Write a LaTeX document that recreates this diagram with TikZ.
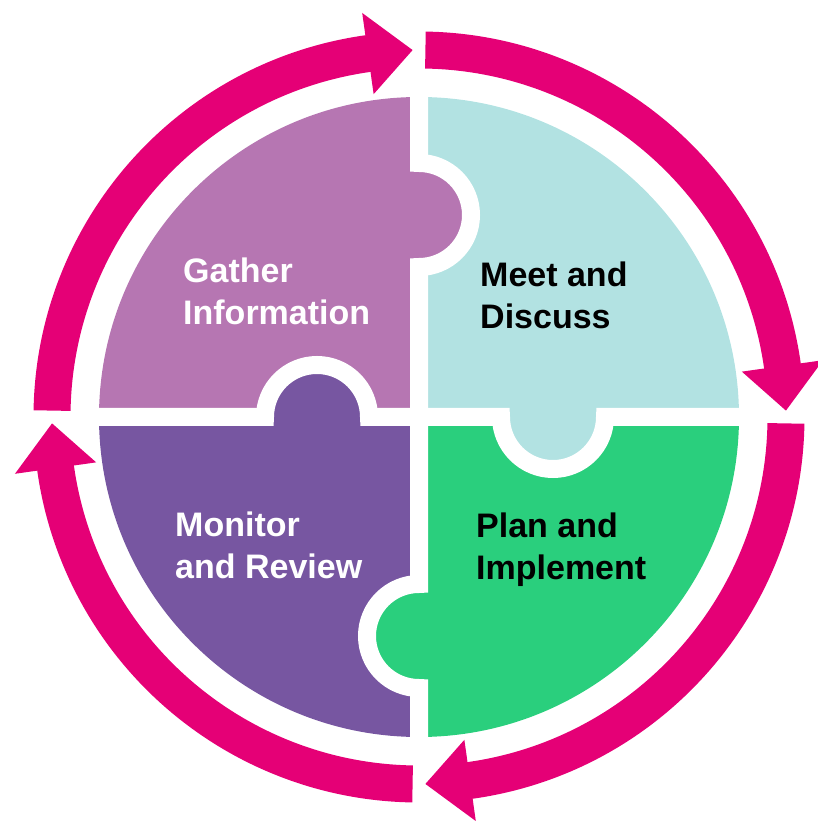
\documentclass[tikz,border=0pt]{standalone}
\usepackage{fontspec}
\setmainfont{Liberation Sans}
\definecolor{mymagenta}{RGB}{229,0,118}
\definecolor{mypink}{RGB}{182,118,178}
\definecolor{mycyan}{RGB}{178,226,226}
\definecolor{mygreen}{RGB}{42,207,125}
\definecolor{mypurple}{RGB}{119,86,161}

\begin{document}
\begin{tikzpicture}[x=1pt,y=1pt,
		piecetext/.style={align=left,anchor=north west,inner sep=0pt,font=\fontsize{34}{42}\selectfont\bfseries},
		seam/.style={white,line width=18pt}]
		\useasboundingbox (-419,-404) rectangle (399,417);
		\clip (-419,-404) rectangle (399,417);
		
		%Pieces
		\fill[mypink] (0,0) -- (-320,0) arc[start angle=180,end angle=90,radius=320pt] -- cycle;
		\fill[mycyan] (0,0) -- (0,320) arc[start angle=90,end angle=0,radius=320pt] -- cycle;
		\fill[mygreen] (0,0) -- (320,0) arc[start angle=0,end angle=-90,radius=320pt] -- cycle;
		\fill[mypurple] (0,0) -- (0,-320) arc[start angle=-90,end angle=-180,radius=320pt] -- cycle;
		
		%Knobs
		\fill[mypink] (0,202) circle[radius=52pt];
		\fill[mypurple] (-102,0) circle[radius=52pt];
		\fill[mycyan] (134,0) circle[radius=52pt];
		\fill[mygreen] (0,-219) circle[radius=52pt];
		
		%Seams
		\draw[seam] (0,330) -- (0,254) arc[start angle=90,end angle=-90,radius=52pt]
		-- (0,-167) arc[start angle=90,end angle=270,radius=52pt] -- (0,-330);
		\draw[seam] (-330,0) -- (-154,0) arc[start angle=180,end angle=0,radius=52pt]
		-- (82,0) arc[start angle=180,end angle=360,radius=52pt] -- (330,0);
		
		%Ring arrows
		\fill[mymagenta] (179:348.5) -- (179:385.5) arc[start angle=179,end angle=98,radius=385.5pt]
		-- (98:408) -- (91:367) -- (98:326) -- (98:348.5) arc[start angle=98,end angle=179,radius=348.5pt] -- cycle;
		\fill[mymagenta] (89:348.5) -- (89:385.5) arc[start angle=89,end angle=8,radius=385.5pt]
		-- (8:408) -- (1:367) -- (8:326) -- (8:348.5) arc[start angle=8,end angle=89,radius=348.5pt] -- cycle;
		\fill[mymagenta] (-1:348.5) -- (-1:385.5) arc[start angle=-1,end angle=-82,radius=385.5pt]
		-- (-82:408) -- (-89:367) -- (-82:326) -- (-82:348.5) arc[start angle=-82,end angle=-1,radius=348.5pt] -- cycle;
		\fill[mymagenta] (-91:348.5) -- (-91:385.5) arc[start angle=-91,end angle=-172,radius=385.5pt]
		-- (-172:408) -- (-179:367) -- (-172:326) -- (-172:348.5) arc[start angle=-172,end angle=-91,radius=348.5pt] -- cycle;
		
		%Labels
		\node[piecetext,text=white] (gather) at (-236,159) {Gather\\Information};
		\node[piecetext] (meet) at (61,155) {Meet and\\Discuss};
		\node[piecetext,text=white] (monitor) at (-244,-95) {Monitor\\and Review};
		\node[piecetext] (plan) at (57,-96) {Plan and\\Implement};
		
	\end{tikzpicture}
\end{document}
